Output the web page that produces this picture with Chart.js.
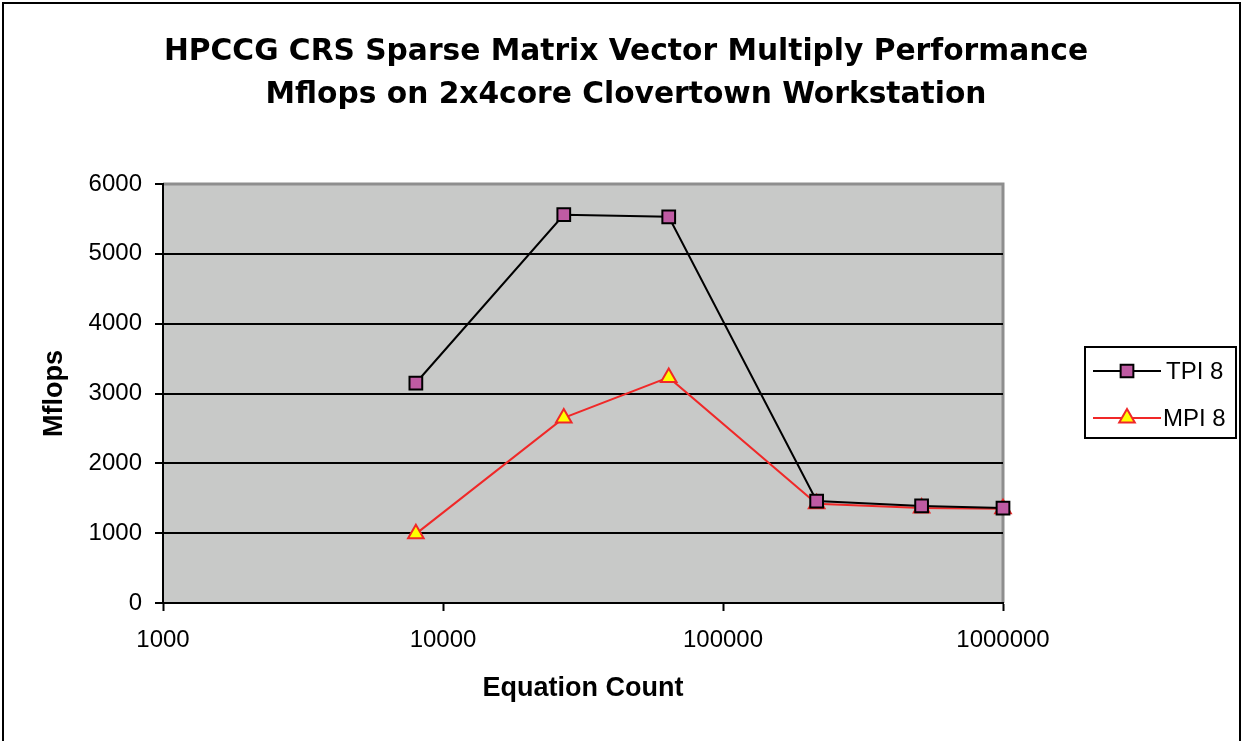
<!DOCTYPE html>
<html>
<head>
<meta charset="utf-8">
<script src="https://cdn.jsdelivr.net/npm/chart.js@4.4.1/dist/chart.umd.min.js"></script>
<style>
  html, body { margin: 0; padding: 0; background: #fff; }
  #wrap { width: 1242px; height: 741px; }
</style>
</head>
<body>
<div id="wrap"><canvas id="chart" width="1242" height="741"></canvas></div>
<script>
// Data
const equationCounts = [8000, 27000, 64000, 216000, 512000, 1000000];
const tpi8 = [3150, 5560, 5530, 1460, 1390, 1360];
const mpi8 = [990, 2650, 3230, 1420, 1360, 1350];
const xTickValues = [1000, 10000, 100000, 1000000];
const yTickValues = [0, 1000, 2000, 3000, 4000, 5000, 6000];
const titleLines = ['HPCCG CRS Sparse Matrix Vector Multiply Performance',
                    'Mflops on 2x4core Clovertown Workstation'];

const plotBg = '#C8C9C8';
const frameGray = '#8E8E8E';
const sans = '"Liberation Sans", Arial, sans-serif';

function toPoints(ys) {
    return equationCounts.map((x, i) => ({ x: x, y: ys[i] }));
}

// background, plot fill, gray top/right edge, outer frame, title
const backdrop = {
    id: 'backdrop',
    beforeDraw(chart) {
        const ctx = chart.ctx;
        const a = chart.chartArea;
        ctx.save();
        ctx.fillStyle = '#fff';
        ctx.fillRect(0, 0, chart.width, chart.height);
        ctx.fillStyle = plotBg;
        ctx.fillRect(a.left, a.top, a.right - a.left, a.bottom - a.top);
        ctx.strokeStyle = frameGray;
        ctx.lineWidth = 3;
        ctx.beginPath();
        ctx.moveTo(a.left, a.top);
        ctx.lineTo(a.right, a.top);
        ctx.lineTo(a.right, a.bottom);
        ctx.stroke();
        ctx.strokeStyle = '#000';
        ctx.lineWidth = 2;
        ctx.strokeRect(3, 3, chart.width - 5, chart.height + 10);

        ctx.fillStyle = '#000';
        ctx.font = 'bold 29.7px "DejaVu Sans", sans-serif';
        ctx.textAlign = 'center';
        ctx.textBaseline = 'middle';
        titleLines.forEach((line, i) => {
            ctx.fillText(line, 626, 52 + i * 43);
        });
        ctx.restore();
    }
};

// boxed legend on the right
const boxLegend = {
    id: 'boxLegend',
    afterDraw(chart) {
        const ctx = chart.ctx;
        const box = { x: 1085, y: 347, w: 151, h: 91 };
        ctx.save();
        ctx.strokeStyle = '#000';
        ctx.lineWidth = 2;
        ctx.strokeRect(box.x, box.y, box.w, box.h);
        chart.data.datasets.forEach((ds, i) => {
            const y = box.y + 24 + i * 47;
            ctx.strokeStyle = ds.borderColor;
            ctx.lineWidth = 2;
            ctx.beginPath();
            ctx.moveTo(box.x + 8, y);
            ctx.lineTo(box.x + 76, y);
            ctx.stroke();
            ctx.fillStyle = ds.pointBackgroundColor;
            ctx.strokeStyle = ds.pointBorderColor;
            Chart.helpers.drawPoint(ctx, {
                pointStyle: ds.pointStyle,
                radius: ds.pointRadius,
                borderWidth: ds.pointBorderWidth,
                rotation: 0
            }, box.x + 42, y);
            ctx.fillStyle = '#000';
            ctx.font = '24px ' + sans;
            ctx.textBaseline = 'middle';
            ctx.textAlign = 'left';
            ctx.fillText(ds.label, box.x + (i === 0 ? 81 : 78), y + 1);
        });
        ctx.restore();
    }
};

new Chart(document.getElementById('chart'), {
    type: 'line',
    data: {
        datasets: [{
            label: 'TPI 8',
            data: toPoints(tpi8),
            borderColor: '#000000',
            borderWidth: 2,
            pointStyle: 'rect',
            pointRadius: 9,
            pointBackgroundColor: '#BF5BA3',
            pointBorderColor: '#000000',
            pointBorderWidth: 2,
            clip: false
        }, {
            label: 'MPI 8',
            data: toPoints(mpi8),
            borderColor: '#F02828',
            borderWidth: 2,
            pointStyle: 'triangle',
            pointRadius: 9,
            pointBackgroundColor: '#FFFF00',
            pointBorderColor: '#F02828',
            pointBorderWidth: 2,
            clip: false
        }]
    },
    options: {
        responsive: false,
        animation: false,
        layout: { padding: { left: 0, right: 239, top: 184, bottom: 0 } },
        plugins: {
            legend: { display: false },
            tooltip: { enabled: false },
            title: { display: false }
        },
        scales: {
            x: {
                type: 'logarithmic',
                min: 1000,
                max: 1000000,
                afterBuildTicks(scale) {
                    scale.ticks = xTickValues.map(v => ({ value: v, major: true }));
                },
                afterFit(scale) { scale.height = 138; },
                grid: { drawOnChartArea: false, drawTicks: true, tickLength: 8, tickColor: '#000', tickWidth: 2 },
                border: { color: '#000', width: 2 },
                ticks: {
                    color: '#000',
                    padding: 15,
                    autoSkip: false,
                    maxRotation: 0,
                    font: { family: sans, size: 24 },
                    callback: v => String(v)
                },
                title: {
                    display: true,
                    text: 'Equation Count',
                    color: '#000',
                    font: { family: sans, size: 27, weight: 'bold' },
                    padding: { top: 0, bottom: 36 }
                }
            },
            y: {
                min: 0,
                max: 6000,
                afterBuildTicks(scale) {
                    scale.ticks = yTickValues.map(v => ({ value: v }));
                },
                afterFit(scale) { scale.width = 163; },
                grid: {
                    color: c => (c.tick && c.tick.value === 6000) ? 'rgba(0,0,0,0)' : '#000',
                    lineWidth: 2,
                    tickLength: 8,
                    tickColor: '#000',
                    tickWidth: 2
                },
                border: { color: '#000', width: 2 },
                ticks: {
                    color: '#000',
                    padding: 13,
                    font: { family: sans, size: 24 },
                    callback: v => String(v)
                },
                title: {
                    display: true,
                    text: 'Mflops',
                    color: '#000',
                    font: { family: sans, size: 27, weight: 'bold' },
                    padding: { top: 38, bottom: 0 }
                }
            }
        }
    },
    plugins: [backdrop, boxLegend]
});
</script>
</body>
</html>
